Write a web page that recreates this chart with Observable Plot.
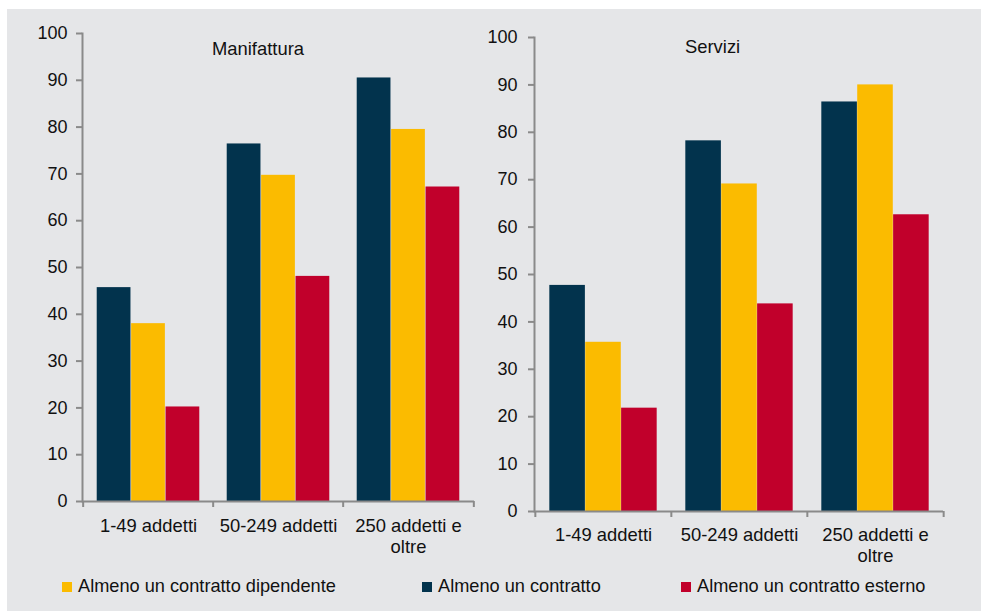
<!DOCTYPE html>
<html>
<head>
<meta charset="utf-8">
<script src="https://cdn.jsdelivr.net/npm/d3@7"></script>
<script src="https://cdn.jsdelivr.net/npm/@observablehq/plot@0.6"></script>
<style>
  body { margin: 0; background: #fff; font-family: "Liberation Sans", Arial, sans-serif; }
  #root { position: relative; width: 981px; height: 611px; overflow: hidden; }
  #bg { position: absolute; left: 7px; top: 9px; right: 0; bottom: 0; background: #e5e6e8; }
  .panel { position: absolute; top: 0; }
  .panel text { fill: #111; }
  .panel line, .panel path { stroke-width: 2px; }
  .title { position: absolute; font-size: 18.4px; color: #111; white-space: nowrap; }
  .leg { position: absolute; top: 576px; font-size: 18.2px; color: #111; white-space: nowrap; display: flex; align-items: center; }
  .leg span.sw { display: inline-block; width: 10px; height: 10px; margin-right: 6px; }
</style>
</head>
<body>
<div id="root">
  <div id="bg"></div>
</div>
<script>
// ---- data ----
const categories = ["1-49 addetti", "50-249 addetti", "250 addetti e oltre"];
const xTickLabels = ["1-49 addetti", "50-249 addetti", "250 addetti e\noltre"];
const series = ["Almeno un contratto", "Almeno un contratto dipendente", "Almeno un contratto esterno"];
const seriesColors = ["#02334d", "#fbbb00", "#c1002b"];
const legendOrder = ["Almeno un contratto dipendente", "Almeno un contratto", "Almeno un contratto esterno"];
const panelTitles = ["Manifattura", "Servizi"];
const yTicks = [0, 10, 20, 30, 40, 50, 60, 70, 80, 90, 100];

// Manifattura
const manContratto   = [45.7, 76.4, 90.5];
const manDipendente  = [38.0, 69.7, 79.5];
const manEsterno     = [20.2, 48.1, 67.2];
// Servizi
const serContratto   = [47.7, 78.2, 86.4];
const serDipendente  = [35.7, 69.1, 90.0];
const serEsterno     = [21.8, 43.8, 62.6];

function rows(values) {
  return categories.map((c, i) => ({cat: c, label: xTickLabels[i], value: values[i]}));
}

function panel({seriesValues, left, width, height, mL, mR, mT, mB, tickPadding, labelDy}) {
  const band = (width - mL - mR) / categories.length;
  const pad = 0.105 * band;
  const bw = (band - 2 * pad) / 3;
  const labels = rows(seriesValues[0]);
  const tickLen = -6 * 100 / (height - mT - mB);
  const marks = [];
  seriesValues.forEach((vals, i) => {
    marks.push(Plot.barY(rows(vals), {
      x: "cat", y: "value", fill: seriesColors[i],
      insetLeft: pad + i * bw, insetRight: pad + (2 - i) * bw
    }));
  });
  marks.push(Plot.ruleY([0], {stroke: "#8a8a8a", strokeWidth: 2}));
  // boundary ticks on the x axis
  marks.push(Plot.ruleX(categories, {x: d => d, y1: 0, y2: tickLen, dx: -band / 2, stroke: "#8a8a8a", strokeWidth: 2}));
  marks.push(Plot.ruleX(categories.slice(-1), {x: d => d, y1: 0, y2: tickLen, dx: band / 2, stroke: "#8a8a8a", strokeWidth: 2}));
  marks.push(Plot.text(labels, {x: "cat", y: 0, text: "label", lineAnchor: "top", dy: labelDy, lineHeight: 1.14, fontSize: 18.4}));
  const chart = Plot.plot({
    width, height,
    marginLeft: mL, marginRight: mR, marginTop: mT, marginBottom: mB,
    style: {background: "transparent", fontFamily: "'Liberation Sans', Arial, sans-serif", fontSize: "18px", color: "#8a8a8a", overflow: "visible"},
    x: {domain: categories, padding: 0, axis: null},
    y: {domain: [0, 100], ticks: yTicks, tickSize: 6, tickPadding, line: true, label: null, tickFormat: d => String(d)},
    marks
  });
  chart.classList.add("panel");
  chart.style.left = left + "px";
  document.getElementById("root").appendChild(chart);
}

panel({seriesValues: [manContratto, manDipendente, manEsterno], left: 0, width: 490, height: 570, mL: 82, mR: 16, mT: 33, mB: 69, tickPadding: 9, labelDy: 16});
panel({seriesValues: [serContratto, serDipendente, serEsterno], left: 490, width: 491, height: 570, mL: 44, mR: 38, mT: 37, mB: 59, tickPadding: 11, labelDy: 15});

// titles
const root = document.getElementById("root");
[[panelTitles[0], 212, 38], [panelTitles[1], 685, 36]].forEach(([t, x, y]) => {
  const d = document.createElement("div");
  d.className = "title"; d.textContent = t;
  d.style.left = x + "px"; d.style.top = y + "px";
  root.appendChild(d);
});

// legend
const legX = [62, 422, 681];
legendOrder.forEach((name, i) => {
  const d = document.createElement("div");
  d.className = "leg";
  d.style.left = legX[i] + "px";
  const sw = document.createElement("span");
  sw.className = "sw"; sw.style.background = seriesColors[series.indexOf(name)];
  d.appendChild(sw);
  d.appendChild(document.createTextNode(name));
  root.appendChild(d);
});
</script>
</body>
</html>
